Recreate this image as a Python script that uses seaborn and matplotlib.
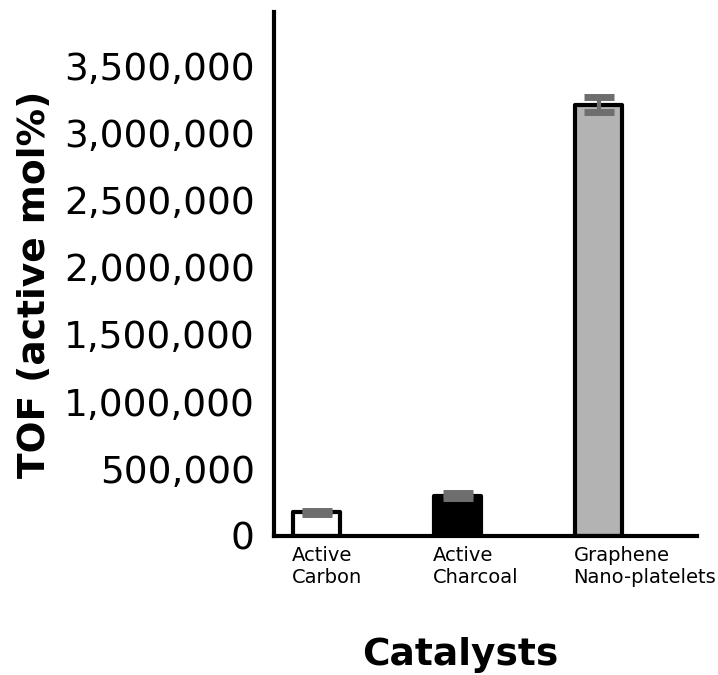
import matplotlib
matplotlib.use("Agg")
import matplotlib.pyplot as plt
import matplotlib.transforms as mtransforms
import seaborn as sns
import pandas as pd
import numpy as np

categories = ["Active\nCarbon", "Active\nCharcoal", "Graphene\nNano-platelets"]
tof_values = [175000, 300000, 3210000]
tof_errors = [12000, 18000, 55000]
bar_colors = ["#ffffff", "#000000", "#b3b3b3"]
y_ticks = [0, 500000, 1000000, 1500000, 2000000, 2500000, 3000000, 3500000]

sns.set_theme(style="white")
plt.rcParams['font.family'] = ['DejaVu Sans']
plt.rcParams['text.color'] = 'black'
plt.rcParams['axes.labelcolor'] = 'black'
plt.rcParams['xtick.color'] = 'black'
plt.rcParams['ytick.color'] = 'black'

df = pd.DataFrame({"Catalyst": categories, "TOF": tof_values})

fig = plt.figure(figsize=(7.18, 6.75), dpi=100)
ax = fig.add_axes([0.382, 0.206, 0.589, 0.776])

sns.barplot(data=df, x="Catalyst", y="TOF", hue="Catalyst", palette=bar_colors,
            width=0.33, edgecolor="black", linewidth=3, legend=False, ax=ax,
            errorbar=None)
for p in ax.patches:
    p.set_joinstyle("round")

ax.errorbar(np.arange(len(categories)), tof_values, yerr=tof_errors, fmt="none",
            ecolor="#6e6e6e", elinewidth=3, capsize=11, capthick=5, zorder=5)

ax.set_xlim(-0.3, 2.7)
ax.set_ylim(0, 3900000)
ax.set_yticks(y_ticks)
ax.set_yticklabels([f"{v:,}" for v in y_ticks], fontsize=27)
ax.tick_params(axis="y", length=0, pad=14)
ax.tick_params(axis="x", length=0, pad=7)

ax.set_xticks(np.arange(len(categories)))
ax.set_xticklabels(categories, fontsize=14, ha="left", linespacing=1.2)
offset = mtransforms.ScaledTranslation(-25 / 100, 0, fig.dpi_scale_trans)
for lab in ax.get_xticklabels():
    lab.set_transform(lab.get_transform() + offset)

ax.set_xlabel("Catalysts", fontsize=27, fontweight="bold", va="center")
ax.xaxis.set_label_coords(0.44, -0.227)
ax.set_ylabel("TOF (active mol%)", fontsize=27, fontweight="bold", va="center")
ax.yaxis.set_label_coords(-0.565, 0.48)

for side in ["top", "right"]:
    ax.spines[side].set_visible(False)
for side in ["left", "bottom"]:
    ax.spines[side].set_linewidth(3)
    ax.spines[side].set_color("black")

fig.savefig("out.png", dpi=100)
